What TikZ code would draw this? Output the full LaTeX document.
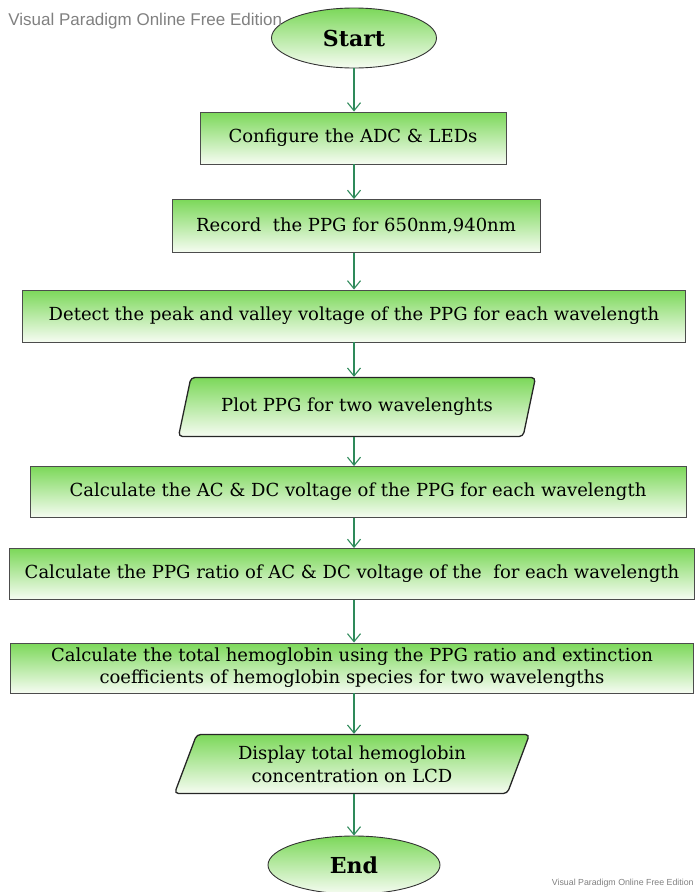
\documentclass[tikz,border=0pt]{standalone}
\usepackage{fontspec}
\setmainfont{DejaVu Serif}
\newfontfamily\wmfont{Liberation Sans}
\usetikzlibrary{shapes.geometric, arrows.meta}

\definecolor{boxgreen}{RGB}{124,216,90}
\definecolor{boxlight}{RGB}{246,252,242}
\definecolor{linegreen}{RGB}{46,138,90}
\definecolor{wmgray}{RGB}{128,128,128}

\begin{document}
\begin{tikzpicture}[x=1pt, y=-1pt, thick,
  font=\fontsize{18}{22}\selectfont,
  stepbox/.style={draw=black!70, line width=0.9pt, top color=boxgreen,
    bottom color=boxlight, minimum height=52pt, inner sep=2pt, align=center},
  io/.style={trapezium, trapezium left angle=63, trapezium right angle=117,
    trapezium stretches body, draw=black!85, line width=1.3pt, rounded corners=4pt,
    top color=boxgreen, bottom color=boxlight, minimum height=59pt,
    inner xsep=0pt, align=center},
  term/.style={ellipse, draw=black!80, line width=0.9pt, top color=boxgreen,
    bottom color=boxlight, font=\fontsize{22}{26}\selectfont\bfseries},
  flow/.style={draw=linegreen, line width=1.1pt,
    -{Straight Barb[length=8pt, width=13pt, line width=1.1pt]}}]
  \useasboundingbox (0,0) rectangle (696,892);
  % terminals
  \node[term, minimum width=165pt, minimum height=60pt] (start) at (354,38) {Start};
  \node[term, minimum width=172pt, minimum height=58pt] (end) at (354,865) {End};
  % process steps
  \node[stepbox, minimum width=306pt] (cfg) at (353,138) {Configure the ADC \& LEDs};
  \node[stepbox, minimum width=368pt, minimum height=53pt] (rec) at (356,226) {Record\ \ the PPG for 650nm,940nm};
  \node[stepbox, minimum width=663pt] (det) at (354,316)
    {Detect the peak and valley voltage of the PPG for each wavelength};
  \node[io, minimum width=357pt] (plot) at (357,407) {Plot PPG for two wavelenghts};
  \node[stepbox, minimum width=656pt, minimum height=51pt] (acdc) at (358,492)
    {Calculate the AC \& DC voltage of the PPG for each wavelength};
  \node[stepbox, minimum width=685pt, minimum height=51pt] (ratio) at (352,574)
    {Calculate the PPG ratio of AC \& DC voltage of the\ \ for each wavelength};
  \node[stepbox, minimum width=683pt, minimum height=50pt] (total) at (352,668)
    {Calculate the total hemoglobin using the PPG ratio and extinction\\
     coefficients of hemoglobin species for two wavelengths};
  \node[io, minimum width=355pt, font=\fontsize{18}{23}\selectfont] (disp) at (352,764)
    {Display total hemoglobin\\concentration on LCD};
  % connectors, kept vertical
  \draw[flow] (start.south) -- (start.south |- cfg.north);
  \draw[flow] (start.south |- cfg.south) -- (start.south |- rec.north);
  \draw[flow] (start.south |- rec.south) -- (start.south |- det.north);
  \draw[flow] (start.south |- det.south) -- (start.south |- plot.north);
  \draw[flow] (start.south |- plot.south) -- (start.south |- acdc.north);
  \draw[flow] (start.south |- acdc.south) -- (start.south |- ratio.north);
  \draw[flow] (start.south |- ratio.south) -- (start.south |- total.north);
  \draw[flow] (start.south |- total.south) -- (start.south |- disp.north);
  \draw[flow] (start.south |- disp.south) -- (end.north);
  % watermarks
  \node[anchor=west, inner sep=0pt, text=wmgray, font=\wmfont\fontsize{17}{19}\selectfont]
    (wmtop) at (8,21) {Visual Paradigm Online Free Edition};
  \node[anchor=east, inner sep=0pt, text=wmgray, font=\wmfont\fontsize{8.8}{10}\selectfont]
    (wmbot) at (694,883) {Visual Paradigm Online Free Edition};
\end{tikzpicture}
\end{document}
